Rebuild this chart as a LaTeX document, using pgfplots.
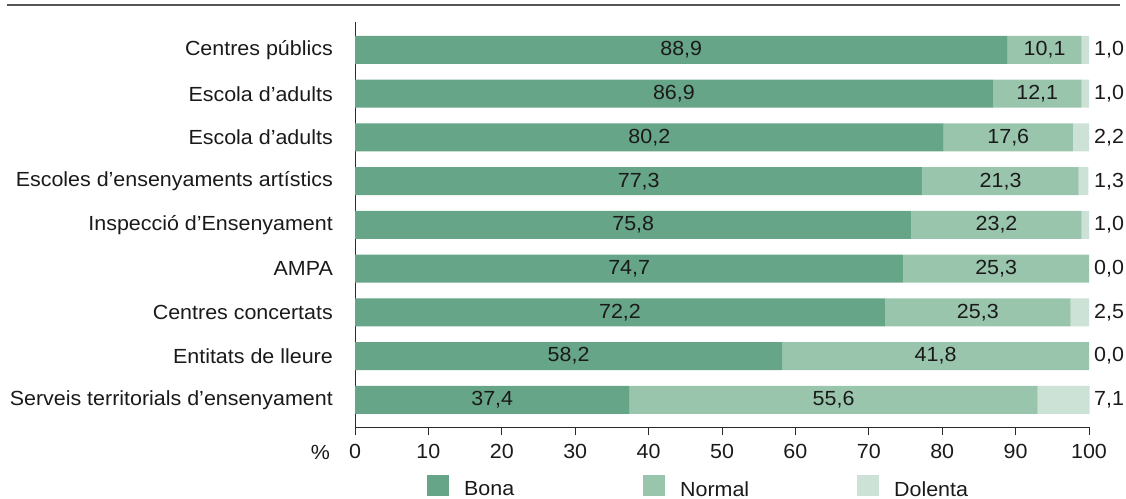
\documentclass[border=0pt]{standalone}
\usepackage{fontspec}
\setmainfont{Liberation Sans}[FakeStretch=1.05]
\usepackage{pgfplots}
\pgfplotsset{compat=1.18}
\usepackage{pgfplotstable}
\definecolor{bona}{HTML}{66A587}
\definecolor{normal}{HTML}{9AC5AD}
\definecolor{dolenta}{HTML}{CDE2D6}
\definecolor{axisgray}{HTML}{2B2B2B}
\definecolor{topline}{HTML}{555555}
\definecolor{txt}{HTML}{1A1A1A}

\pgfplotstableread{
y bona normal dolenta
0 88.9 10.1 1.0
1 86.9 12.1 1.0
2 80.2 17.6 2.2
3 77.3 21.3 1.3
4 75.8 23.2 1.0
5 74.7 25.3 0.0
6 72.2 25.3 2.5
7 58.2 41.8 0.0
8 37.4 55.6 7.1
}\data

\newcommand{\chartfont}{\fontsize{20.5}{24}\selectfont}

\pgfplotsset{
  base/.style={
    at={(355bp,-427bp)}, anchor=south west,
    scale only axis, width=734bp, height=405bp,
    xmin=0, xmax=100, ymin=-0.64, ymax=8.62, y dir=reverse,
    font=\chartfont,
    /pgf/number format/assume math mode=true,
  },
}

\begin{document}
\begin{tikzpicture}
\useasboundingbox (0,0) rectangle (1126bp,-499bp);
\draw[line width=2bp, topline] (7bp,-5bp) -- (1120bp,-5bp);

\begin{axis}[base, clip=false,
  xbar stacked, bar width=0.64,
  axis x line*=bottom, axis y line*=left,
  axis line style={axisgray, line width=1bp},
  tick align=outside, major tick length=8bp,
  xtick={0,10,...,100},
  x tick style={axisgray, line width=1bp},
  ytick={0,...,8},
  ytick style={draw=none},
  yticklabels={Centres públics, Escola d’adults, Escola d’adults, Escoles d’ensenyaments artístics, Inspecció d’Ensenyament, AMPA, Centres concertats, Entitats de lleure, Serveis territorials d’ensenyament},
  y tick label style={anchor=east, inner sep=0pt, xshift=-14bp, text=txt},
  x tick label style={text=txt, yshift=-6bp},
  legend columns=3,
  legend style={at={(0.098,-0.147)}, anchor=west, draw=none, fill=none, inner sep=0pt,
    /tikz/every odd column/.append style={column sep=15bp},
    nodes={inner sep=0pt, text=txt}, font=\chartfont},
  legend image code/.code={\fill[#1] (0bp,-7bp) rectangle (22bp,14bp);},
]
\addplot[fill=bona, draw=none] table[x=bona, y=y] {\data};
\addlegendentry{\makebox[179bp][l]{Bona}}
\addplot[fill=normal, draw=none] table[x=normal, y=y] {\data};
\addlegendentry{\makebox[177bp][l]{Normal}}
\addplot[fill=dolenta, draw=none] table[x=dolenta, y=y] {\data};
\addlegendentry{Dolenta}
\node[anchor=base east, inner sep=0pt, text=txt] at (axis description cs:-0.034,-0.079) {\%};
\end{axis}

\begin{axis}[base, hide axis,
  nodes near coords={\pgfmathprintnumber[fixed, fixed zerofill, precision=1, use comma]{\pgfplotspointmeta}},
  nodes near coords style={text=txt, font=\chartfont},
]
\addplot[draw=none, mark=none, point meta=explicit, nodes near coords style={anchor=center}]
  table[x expr=\thisrow{bona}/2, y=y, meta=bona] {\data};
\addplot[draw=none, mark=none, point meta=explicit, nodes near coords style={anchor=center}]
  table[x expr=\thisrow{bona}+\thisrow{normal}/2, y=y, meta=normal] {\data};
\addplot[draw=none, mark=none, point meta=explicit, nodes near coords style={anchor=west, inner sep=0pt, xshift=5bp}]
  table[x expr=100, y=y, meta=dolenta] {\data};
\end{axis}
\end{tikzpicture}
\end{document}
